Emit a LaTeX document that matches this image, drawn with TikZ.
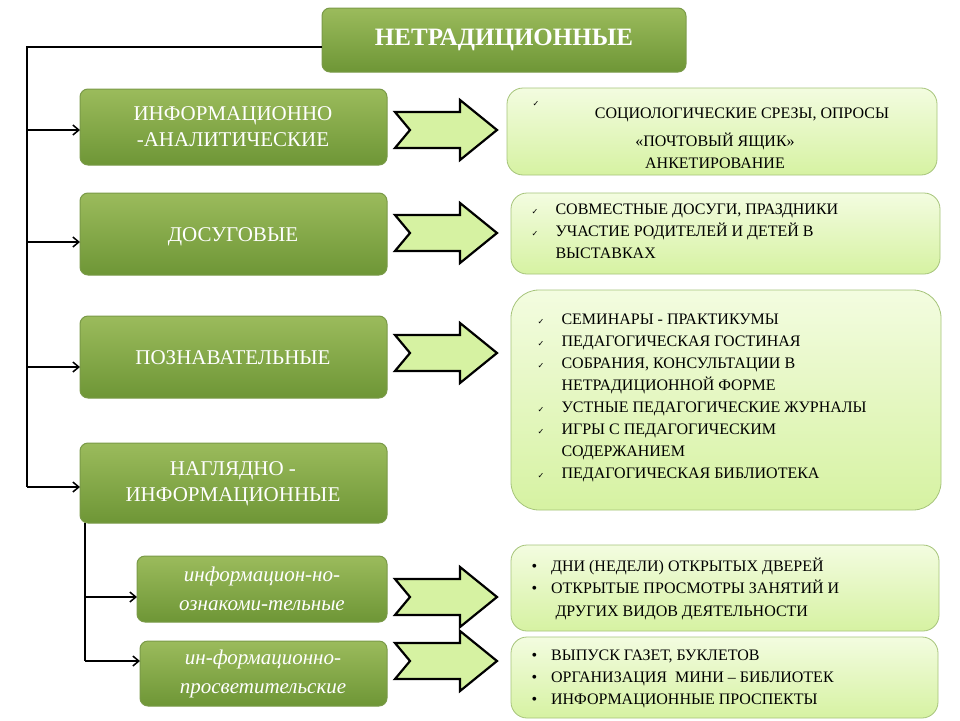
\documentclass[tikz,border=0pt]{standalone}
\usepackage{fontspec}
\setmainfont{Liberation Serif}
\newfontfamily\dv{DejaVu Sans}
\usetikzlibrary{arrows.meta}
\definecolor{gTop}{HTML}{9BBB5C}
\definecolor{gBot}{HTML}{6E9636}
\definecolor{gLine}{HTML}{7A9A48}
\definecolor{lTop}{HTML}{F3FCE0}
\definecolor{lBot}{HTML}{D6F2A2}
\definecolor{lLine}{HTML}{A6C47A}
\newcommand{\ck}{\makebox[24pt][l]{\dv\fontsize{8}{8}\selectfont ✓}}
\tikzset{
 dark/.style={rounded corners=8pt,draw=gLine,line width=1pt,top color=gTop,bottom color=gBot},
 lbl/.style={text=white,align=center,font=\fontsize{21}{26}\selectfont},
 light/.style={rounded corners=16pt,draw=lLine,line width=0.8pt,top color=lTop,bottom color=lBot},
 blk/.style={fill=lBot,draw=black,line width=2.2pt,line join=miter},
 ln/.style={line width=2pt},
 la/.style={line width=2pt,-{Straight Barb[length=6pt,width=10pt,line width=1.5pt]}},
 txt/.style={anchor=north west,align=left,font=\fontsize{16}{22}\selectfont}
}
\begin{document}
\begin{tikzpicture}[x=1pt,y=-1pt]
\useasboundingbox (0,0) rectangle (960,720);
\fill[white] (0,0) rectangle (960,720);
% left boxes
\draw[dark] (322,8) rectangle (686,72);
\node[text=white,font=\fontsize{25}{28}\selectfont\bfseries] (t) at (504,40) {НЕТРАДИЦИОННЫЕ};
\draw[dark] (80,89) rectangle (387,165);
\node[lbl] (a) at (233,127) {ИНФОРМАЦИОННО\\-АНАЛИТИЧЕСКИЕ};
\draw[dark] (80,193) rectangle (387,275);
\node[lbl] (b) at (233,237) {ДОСУГОВЫЕ};
\draw[dark] (80,316) rectangle (387,398);
\node[lbl] (c) at (233,358) {ПОЗНАВАТЕЛЬНЫЕ};
\draw[dark] (80,443) rectangle (387,523);
\node[lbl] (d) at (233,484) {НАГЛЯДНО -\\ИНФОРМАЦИОННЫЕ};
\draw[dark] (137,556) rectangle (387,622);
\node[lbl,font=\fontsize{21}{29}\selectfont\itshape] (e) at (262,589) {информацион-но-\\ознакоми-тельные};
\draw[dark] (140,641) rectangle (387,706);
\node[lbl,font=\fontsize{21}{29}\selectfont\itshape] (f) at (263,674) {ин-формационно-\\просветительские};
% connectors
\coordinate (tl) at (27,47); \coordinate (tb) at (27,487);
\draw[ln] (322,47) -- (tl) -- (tb);
\draw[la] (27,130) -- (80,130);
\draw[la] (27,242) -- (80,242);
\draw[la] (27,367) -- (80,367);
\draw[la] (27,487) -- (80,487);
\draw[ln] (85,523) -- (85,661);
\draw[la] (85,597) -- (137,597);
\draw[la] (85,661) -- (140,661);
% block arrows
\foreach \y in {130,233,353,597,661}{
 \draw[blk] (395,\y-18) -- (460,\y-18) -- (460,\y-30) -- (497,\y) -- (460,\y+30) -- (460,\y+18) -- (395,\y+18) -- (410,\y) -- cycle;
}
% right boxes
\draw[light] (507,88) rectangle (937,175);
\node[font=\dv\fontsize{8}{8}\selectfont] (ck1) at (536,104) {✓};
\node[font=\fontsize{16}{22}\selectfont,align=center] (r1) at (742,115) {СОЦИОЛОГИЧЕСКИЕ СРЕЗЫ, ОПРОСЫ};
\node[font=\fontsize{16}{22}\selectfont,align=center] (r1b) at (715,151) {«ПОЧТОВЫЙ ЯЩИК»\\АНКЕТИРОВАНИЕ};
\draw[light] (511,193) rectangle (940,274);
\node[txt] (r2) at (528,200) {\ck СОВМЕСТНЫЕ ДОСУГИ, ПРАЗДНИКИ\\\ck УЧАСТИЕ РОДИТЕЛЕЙ И ДЕТЕЙ В\\\hspace*{24pt}ВЫСТАВКАХ};
\draw[light,rounded corners=28pt] (511,290) rectangle (941,510);
\node[txt] (r3) at (534,310) {\ck СЕМИНАРЫ - ПРАКТИКУМЫ\\\ck ПЕДАГОГИЧЕСКАЯ ГОСТИНАЯ\\\ck СОБРАНИЯ, КОНСУЛЬТАЦИИ В\\\hspace*{24pt}НЕТРАДИЦИОННОЙ ФОРМЕ\\\ck УСТНЫЕ ПЕДАГОГИЧЕСКИЕ ЖУРНАЛЫ\\\ck ИГРЫ С ПЕДАГОГИЧЕСКИМ\\\hspace*{24pt}СОДЕРЖАНИЕМ\\\ck ПЕДАГОГИЧЕСКАЯ БИБЛИОТЕКА};
\draw[light] (511,545) rectangle (939,631);
\node[txt,font=\fontsize{16}{22.5}\selectfont] (r4) at (528,554) {\textbullet\hspace{14pt}ДНИ (НЕДЕЛИ) ОТКРЫТЫХ ДВЕРЕЙ\\\textbullet\hspace{14pt}ОТКРЫТЫЕ ПРОСМОТРЫ ЗАНЯТИЙ И\\\hspace*{24pt}ДРУГИХ ВИДОВ ДЕЯТЕЛЬНОСТИ};
\draw[light] (511,637) rectangle (938,718);
\node[txt] (r5) at (528,646) {\textbullet\hspace{14pt}ВЫПУСК ГАЗЕТ, БУКЛЕТОВ\\\textbullet\hspace{14pt}ОРГАНИЗАЦИЯ\ \ МИНИ – БИБЛИОТЕК\\\textbullet\hspace{14pt}ИНФОРМАЦИОННЫЕ ПРОСПЕКТЫ};
\end{tikzpicture}
\end{document}
